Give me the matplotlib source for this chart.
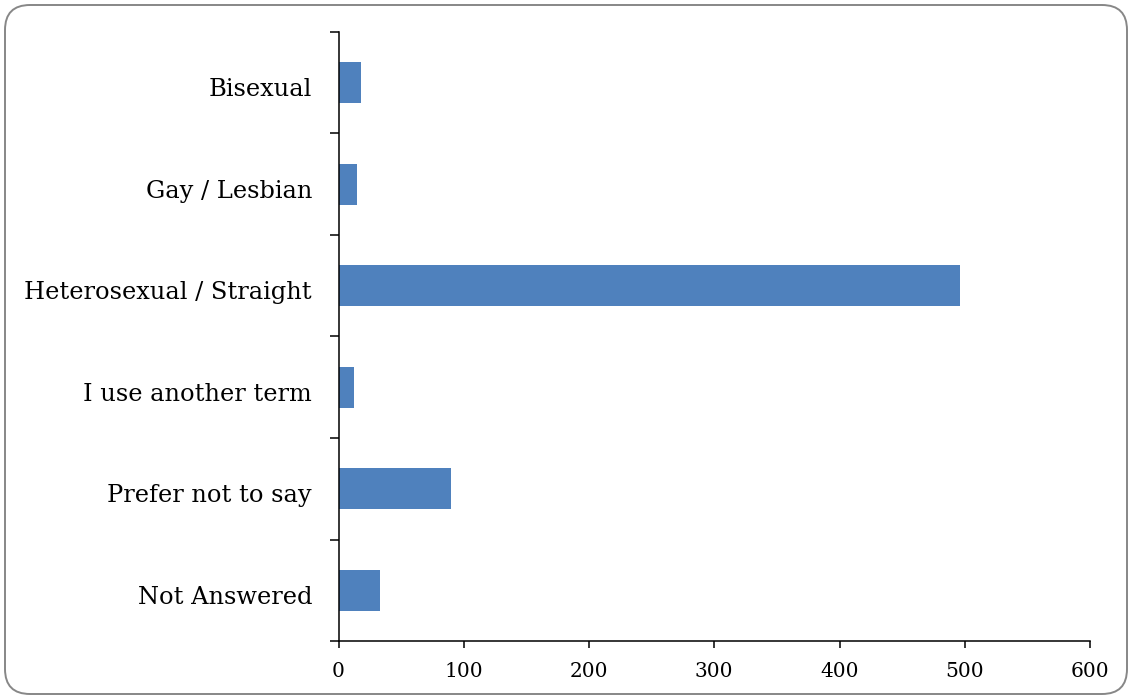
#!/usr/bin/env python3
"""Horizontal bar chart: responses by sexual orientation."""

import numpy as np
import matplotlib

matplotlib.use("Agg")
import matplotlib.pyplot as plt
from matplotlib.patches import FancyBboxPatch
from matplotlib.transforms import IdentityTransform, ScaledTranslation

categories = [
    "Bisexual",
    "Gay / Lesbian",
    "Heterosexual / Straight",
    "I use another term",
    "Prefer not to say",
    "Not Answered",
]
counts = [18, 15, 496, 12, 90, 33]
x_ticks = [0, 100, 200, 300, 400, 500, 600]

BAR_COLOR = "#4F81BD"
FRAME_COLOR = "#878787"
W, H, DPI = 1130, 698, 100

plt.rcParams["font.family"] = ["DejaVu Serif"]

fig = plt.figure(figsize=(W / DPI, H / DPI), dpi=DPI)
# axes box in pixels: left 338.5, right 1090, top 32, bottom 641
ax = fig.add_axes([338.5 / W, (H - 641) / H, (1090 - 338.5) / W, (641 - 32) / H])

y = np.arange(len(categories))
ax.barh(y, counts, height=0.4, color=BAR_COLOR)

ax.set_xlim(0, 600)
ax.set_ylim(len(categories) - 0.5, -0.5)
ax.set_xticks(x_ticks)
ax.set_xticklabels([str(t) for t in x_ticks], fontsize=14.5)
ax.set_yticks(y)
ax.set_yticklabels(categories, fontsize=17.4)
ax.set_yticks(np.arange(-0.5, len(categories)), minor=True)

ax.tick_params(axis="y", which="major", length=0, pad=19)
ax.tick_params(axis="y", which="minor", length=6.5, width=1.1, direction="out")
ax.tick_params(axis="x", which="major", length=5, width=1.1, direction="out", pad=10)

# category text sits a few pixels below the bar centre
shift = ScaledTranslation(0, -4.5 / DPI, fig.dpi_scale_trans)
for lbl in ax.get_yticklabels():
    lbl.set_transform(lbl.get_transform() + shift)

for side in ("top", "right"):
    ax.spines[side].set_visible(False)
for side in ("left", "bottom"):
    ax.spines[side].set_linewidth(1.1)

# rounded outer frame, drawn in pixel coordinates
frame = FancyBboxPatch(
    (5, 4), 1122, 689,
    boxstyle="round,pad=0,rounding_size=25",
    transform=IdentityTransform(),
    facecolor="none", edgecolor=FRAME_COLOR, linewidth=1.4,
)
fig.patches.append(frame)

fig.savefig("out.png", dpi=DPI)
